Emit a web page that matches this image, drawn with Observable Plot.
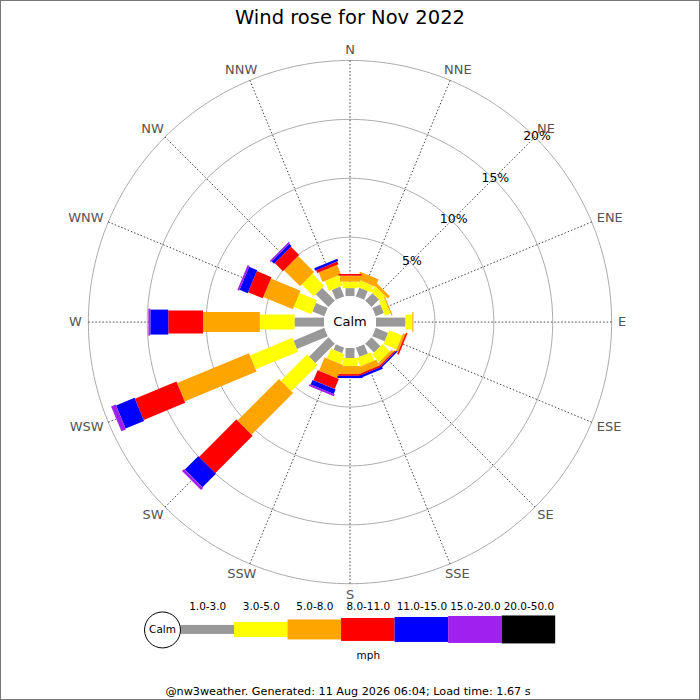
<!DOCTYPE html>
<html><head><meta charset="utf-8">
<script src="https://cdn.jsdelivr.net/npm/d3@7"></script>
<script src="https://cdn.jsdelivr.net/npm/@observablehq/plot@0.6"></script>
<style>
body{margin:0;background:#fff;font-family:"DejaVu Sans",sans-serif;}
#frame{position:relative;width:700px;height:700px;box-sizing:border-box;border:1px solid #777;overflow:hidden;background:#fff;}
#title{position:absolute;left:-1px;top:-1px;width:700px;text-align:center;font-size:19.5px;line-height:36px;height:36px;color:#000;}
#main{position:absolute;left:-1px;top:35px;}
#legend{position:absolute;left:-1px;top:599px;}
#footer{position:absolute;left:-3px;top:682px;width:700px;text-align:center;font-size:11.2px;line-height:18px;color:#000;}
</style>
</head><body>
<div id="frame">
  <div id="title"></div>
  <div id="main"></div>
  <div id="legend"></div>
  <div id="footer"></div>
</div>
<script>
// ---- data (percent of observations) ----
const directions = ["N","NNE","NE","ENE","E","ESE","SE","SSE","S","SSW","SW","WSW","W","WNW","NW","NNW"];
const speedBands = ["1.0-3.0","3.0-5.0","5.0-8.0","8.0-11.0","11.0-15.0","15.0-20.0","20.0-50.0"];
const band1to3   = [0.68,0.81,0.89,0.75,2.50,1.14,1.07,0.84,0.85,0.50,2.33,2.83,2.50,1.09,1.53,0.91];
const band3to5   = [0.55,0.59,0.59,0.51,0.59,1.19,0.88,0.77,0.68,0.89,3.14,3.90,2.95,1.61,1.42,0.93];
const band5to8   = [0.50,0.68,0.26,0.10,0.09,0.21,0.24,0.56,0.68,1.23,4.99,6.61,4.82,2.71,1.92,0.87];
const band8to11  = [0.15,0.00,0.00,0.00,0.00,0.13,0.12,0.15,0.15,0.93,4.49,3.81,2.95,1.35,0.99,0.25];
const band11to15 = [0.00,0.00,0.00,0.00,0.00,0.00,0.12,0.20,0.19,0.41,1.61,1.70,1.52,0.74,0.29,0.22];
const band15to20 = [0.00,0.00,0.00,0.00,0.00,0.00,0.00,0.00,0.00,0.17,0.26,0.42,0.17,0.17,0.13,0.00];
const band20to50 = [0.00,0.00,0.00,0.00,0.00,0.00,0.00,0.00,0.00,0.00,0.00,0.00,0.00,0.00,0.00,0.00];
const ringTicks  = [5,10,15,20];
const ringLabels = ["5%","10%","15%","20%"];
const calmLabel  = "Calm";
const unitLabel  = "mph";
const titleText  = "Wind rose for Nov 2022";
const footerText = "@nw3weather. Generated: 11 Aug 2026 06:04; Load time: 1.67 s";

// ---- styles ----
const bandColors = ["#999999","#ffff00","#ffa500","#ff0000","#0000ff","#a020f0","#000000"];
const bandWidths = [9,15,20,23,25,27,28];
const font = "DejaVu Sans";
const dirFontSize = 13;

document.getElementById("title").textContent = titleText;
document.getElementById("footer").textContent = footerText;

// ---- geometry helpers (data space in percent units) ----
const k = 11.8;            // px per percent
const c0 = 26 / k;         // calm circle radius in percent units
const W = 700, H = 600, cx = 350, cy = 286;
const rad = deg => deg * Math.PI / 180;
const pol = (r, deg) => ({x: r * Math.sin(rad(deg)), y: r * Math.cos(rad(deg))});
const angleOf = i => i * 360 / directions.length;

const series = [band1to3, band3to5, band5to8, band8to11, band11to15, band15to20, band20to50];
const segments = [];
series.forEach((s, j) => {
  directions.forEach((d, i) => {
    const before = series.slice(0, j).reduce((a, t) => a + t[i], 0);
    if (s[i] > 0) segments.push({dir: d, a: angleOf(i), j, r0: c0 + before, r1: c0 + before + s[i]});
  });
});

const ringPts = [];
ringTicks.forEach(v => { for (let a = 0; a <= 360; a += 1) ringPts.push({v, ...pol(c0 + v, a)}); });
const outerR = c0 + ringTicks[ringTicks.length - 1];

// direction labels: box edge touches a circle just outside the outer ring
const ctx = document.createElement("canvas").getContext("2d");
ctx.font = `${dirFontSize}px "${font}"`;
const labelGap = 268.5 / k;
const capH = 9 / k;
const dirLabels = directions.map((d, i) => {
  const a = rad(angleOf(i));
  const w = ctx.measureText(d).width / k;
  return {d, x: Math.sin(a) * (labelGap + w / 2), y: Math.cos(a) * (labelGap + capH / 2)};
});

const main = Plot.plot({
  width: W, height: H, margin: 0,
  style: {background: "transparent", fontFamily: font},
  x: {domain: [-cx / k, (W - cx) / k], range: [0, W], axis: null},
  y: {domain: [-(H - cy) / k, cy / k], range: [H, 0], axis: null},
  marks: [
    Plot.line(ringPts, {x: "x", y: "y", z: "v", stroke: "#aaaaaa", strokeWidth: 1}),
    Plot.link(directions, {
      x1: (d, i) => pol(c0, angleOf(i)).x, y1: (d, i) => pol(c0, angleOf(i)).y,
      x2: (d, i) => pol(outerR, angleOf(i)).x, y2: (d, i) => pol(outerR, angleOf(i)).y,
      stroke: "#444", strokeWidth: 1, strokeDasharray: "1.5,2"
    }),
    Plot.link(segments, {
      x1: d => pol(d.r0, d.a).x, y1: d => pol(d.r0, d.a).y,
      x2: d => pol(d.r1, d.a).x, y2: d => pol(d.r1, d.a).y,
      stroke: d => bandColors[d.j], strokeWidth: d => bandWidths[d.j], strokeLinecap: "butt"
    }),
    Plot.dot([calmLabel], {x: () => 0, y: () => 0, r: 26, fill: "white", stroke: "none"}),
    Plot.text([calmLabel], {x: () => 0, y: () => 0, text: d => d, fontSize: 13, fill: "black"}),
    Plot.text(dirLabels, {x: "x", y: "y", text: "d", fontSize: dirFontSize, fill: "#555"}),
    Plot.text(ringTicks, {
      x: v => pol(c0 + v, 45).x, y: v => pol(c0 + v, 45).y,
      text: (v, i) => ringLabels[i], fontSize: 12.5, fill: "black", dx: 2, dy: -1
    })
  ]
});
document.getElementById("main").appendChild(main);

// ---- legend ----
const barMid = 29.5;
const legend = Plot.plot({
  width: W, height: 70, margin: 0,
  style: {background: "transparent", fontFamily: font},
  x: {domain: [0, speedBands.length], range: [180.7, 556], axis: null},
  y: {domain: [0, 70], range: [0, 70], axis: null},
  marks: [
    Plot.rect(speedBands, {
      x1: (d, i) => i, x2: (d, i) => i + 1,
      y1: (d, i) => barMid - bandWidths[i] / 2, y2: (d, i) => barMid + bandWidths[i] / 2,
      fill: (d, i) => bandColors[i]
    }),
    Plot.dot([calmLabel], {x: () => -0.345, y: () => barMid, r: 18, fill: "white", stroke: "black", strokeWidth: 1}),
    Plot.text([calmLabel], {x: () => -0.345, y: () => barMid, text: d => d, fontSize: 10.5, fill: "black"}),
    Plot.text(speedBands, {x: (d, i) => i + 0.5, y: () => 6.5, text: d => d, fontSize: 10.5, fill: "black"}),
    Plot.text([unitLabel], {x: () => speedBands.length / 2, y: () => 55, text: d => d, fontSize: 10.5, fill: "black"})
  ]
});
document.getElementById("legend").appendChild(legend);
</script>
</body></html>
